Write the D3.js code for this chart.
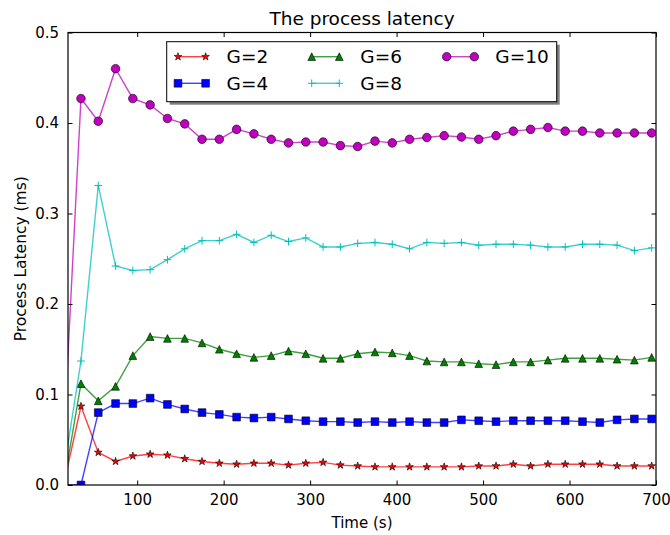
<!DOCTYPE html>
<html>
<head>
<meta charset="utf-8">
<script src="https://cdn.jsdelivr.net/npm/d3@7"></script>
<style>
  html, body { margin: 0; padding: 0; background: #fff; }
  svg { display: block; }
  text { font-family: "DejaVu Sans", sans-serif; fill: #000; }
</style>
</head>
<body>
<svg id="chart" width="670" height="535"></svg>
<script>
// Sample times (s): one warm-up point, then one every 20 s
const times = [15, 35, 55, 75, 95, 115, 135, 155, 175, 195, 215, 235, 255, 275, 295, 315, 335,
  355, 375, 395, 415, 435, 455, 475, 495, 515, 535, 555, 575, 595, 615, 635, 655, 675, 695];

// Process latency (ms) per group size G
const g2 = [0, 0.087, 0.036, 0.026, 0.032, 0.034, 0.033, 0.029, 0.026, 0.024, 0.023, 0.024,
  0.024, 0.022, 0.024, 0.025, 0.022, 0.021, 0.020, 0.020, 0.020, 0.020, 0.020,
  0.020, 0.021, 0.021, 0.023, 0.021, 0.023, 0.023, 0.023, 0.023, 0.021, 0.021, 0.021];
const g4 = [0, 0.0, 0.080, 0.090, 0.090, 0.096, 0.089, 0.084, 0.080, 0.078, 0.075, 0.074,
  0.075, 0.073, 0.071, 0.070, 0.070, 0.069, 0.070, 0.069, 0.070, 0.069, 0.069,
  0.072, 0.071, 0.070, 0.071, 0.071, 0.071, 0.071, 0.070, 0.069, 0.072, 0.073, 0.073];
const g6 = [0, 0.112, 0.093, 0.109, 0.143, 0.164, 0.162, 0.162, 0.157, 0.150, 0.145, 0.141,
  0.143, 0.148, 0.145, 0.140, 0.140, 0.145, 0.147, 0.146, 0.143, 0.137, 0.136,
  0.136, 0.134, 0.133, 0.136, 0.136, 0.138, 0.140, 0.140, 0.140, 0.139, 0.138, 0.141];
const g8 = [0.015, 0.137, 0.331, 0.242, 0.237, 0.238, 0.249, 0.261, 0.270, 0.270, 0.277, 0.268,
  0.276, 0.269, 0.273, 0.263, 0.263, 0.267, 0.268, 0.266, 0.261, 0.268, 0.267,
  0.268, 0.265, 0.266, 0.266, 0.265, 0.263, 0.263, 0.266, 0.266, 0.265, 0.259, 0.262];
const g10 = [0.05, 0.427, 0.402, 0.460, 0.427, 0.420, 0.405, 0.399, 0.382, 0.382, 0.393, 0.388,
  0.382, 0.378, 0.379, 0.379, 0.375, 0.374, 0.380, 0.378, 0.382, 0.384, 0.386,
  0.3845, 0.382, 0.386, 0.391, 0.393, 0.395, 0.391, 0.391, 0.389, 0.389, 0.389, 0.389];

const seriesNames = ["G=2", "G=4", "G=6", "G=8", "G=10"];
const seriesValues = [g2, g4, g6, g8, g10];
const seriesColors = ["#ff0000", "#0000ff", "#008000", "#00bfbf", "#bf00bf"];
const seriesMarkers = ["star", "square", "triangle", "plus", "circle"];

const xTicks = [100, 200, 300, 400, 500, 600, 700];
const yTicks = [0.0, 0.1, 0.2, 0.3, 0.4, 0.5];

(function () {
  const svg = d3.select("#chart");
  const pL = 68, pR = 656, pT = 32.5, pB = 485;
  const x = d3.scaleLinear().domain([20, 700]).range([pL, pR]);
  const y = d3.scaleLinear().domain([0, 0.5]).range([pB, pT]);

  svg.append("defs").append("clipPath").attr("id", "plotclip")
    .append("rect").attr("x", pL).attr("y", pT)
    .attr("width", pR - pL).attr("height", pB - pT);

  // Marker shapes, centred on the origin
  const MS = 7.7;
  function markerPath(kind) {
    const r = MS / 2;
    if (kind === "star") {
      const pts = [];
      for (let i = 0; i < 10; i++) {
        const a = -Math.PI / 2 + i * Math.PI / 5;
        const rr = i % 2 === 0 ? r * 1.05 : r * 1.05 * 0.382;
        pts.push([rr * Math.cos(a), rr * Math.sin(a)]);
      }
      return "M" + pts.map(p => p.join(",")).join("L") + "Z";
    }
    if (kind === "square") return `M${-r},${-r}H${r}V${r}H${-r}Z`;
    if (kind === "triangle") return `M0,${-r}L${r},${r}L${-r},${r}Z`;
    if (kind === "plus") return `M${-r},0H${r}M0,${-r}V${r}`;
    return null;
  }
  function drawMarker(g, kind, color, cx, cy) {
    if (kind === "circle") {
      g.append("circle").attr("cx", cx).attr("cy", cy).attr("r", 4.3)
        .attr("fill", color).attr("stroke", "#000").attr("stroke-width", 0.6);
    } else if (kind === "plus") {
      g.append("path").attr("d", markerPath(kind)).attr("transform", `translate(${cx},${cy})`)
        .attr("fill", "none").attr("stroke", color).attr("stroke-width", 1);
    } else {
      g.append("path").attr("d", markerPath(kind)).attr("transform", `translate(${cx},${cy})`)
        .attr("fill", color).attr("stroke", "#000").attr("stroke-width", 0.6);
    }
  }

  // Series lines and markers
  const plot = svg.append("g").attr("clip-path", "url(#plotclip)");
  const line = d3.line().x(d => x(d[0])).y(d => y(d[1]));
  seriesValues.forEach((vals, i) => {
    const pts = times.map((t, j) => [t, vals[j]]);
    plot.append("path").datum(pts).attr("d", line)
      .attr("fill", "none").attr("stroke", seriesColors[i])
      .attr("stroke-width", 1.4).attr("stroke-opacity", 0.75);
    const mg = plot.append("g");
    pts.forEach(p => drawMarker(mg, seriesMarkers[i], seriesColors[i], x(p[0]), y(p[1])));
  });

  // Frame
  svg.append("rect").attr("x", pL).attr("y", pT)
    .attr("width", pR - pL).attr("height", pB - pT)
    .attr("fill", "none").attr("stroke", "#000").attr("stroke-width", 1.2);

  // Inward ticks on all four sides
  const tickLen = 4.5;
  const gx = svg.append("g").attr("transform", `translate(0,${pB})`)
    .call(d3.axisBottom(x).tickValues(xTicks).tickSize(-tickLen).tickPadding(9)
      .tickFormat(d3.format("d")));
  gx.select(".domain").remove();
  gx.selectAll("text").attr("font-size", 15).attr("font-family", "DejaVu Sans");
  const gxt = svg.append("g").attr("transform", `translate(0,${pT})`)
    .call(d3.axisTop(x).tickValues(xTicks).tickSize(-tickLen).tickFormat(""));
  gxt.select(".domain").remove();

  const gy = svg.append("g").attr("transform", `translate(${pL},0)`)
    .call(d3.axisLeft(y).tickValues(yTicks).tickSize(-tickLen).tickPadding(9)
      .tickFormat(d3.format(".1f")));
  gy.select(".domain").remove();
  gy.selectAll("text").attr("font-size", 15).attr("font-family", "DejaVu Sans");
  const gyr = svg.append("g").attr("transform", `translate(${pR},0)`)
    .call(d3.axisRight(y).tickValues(yTicks).tickSize(-tickLen).tickFormat(""));
  gyr.select(".domain").remove();
  svg.selectAll(".tick line").attr("stroke", "#000").attr("stroke-width", 1);

  // Titles
  svg.append("text").attr("x", (pL + pR) / 2).attr("y", 25)
    .attr("text-anchor", "middle").attr("font-size", 18.5).text("The process latency");
  svg.append("text").attr("x", (pL + pR) / 2).attr("y", 528)
    .attr("text-anchor", "middle").attr("font-size", 15).text("Time (s)");
  svg.append("text").attr("transform", `translate(26,${(pT + pB) / 2}) rotate(-90)`)
    .attr("text-anchor", "middle").attr("font-size", 15.5).text("Process Latency (ms)");

  // Legend
  const lg = svg.append("g");
  const lx0 = 166.7, ly0 = 41.7, lw = 390, lh = 60;
  lg.append("rect").attr("x", lx0 + 3).attr("y", ly0 + 3).attr("width", lw).attr("height", lh)
    .attr("fill", "#000").attr("opacity", 0.5);
  lg.append("rect").attr("x", lx0).attr("y", ly0).attr("width", lw).attr("height", lh)
    .attr("fill", "#fff").attr("stroke", "#000").attr("stroke-width", 1);
  const colX = [178, 311.7, 446.7];
  const rowY = [56.7, 83.3];
  seriesNames.forEach((name, i) => {
    const col = Math.floor(i / 2), row = i % 2;
    const x0 = colX[col], x1 = x0 + 27.6, yy = rowY[row];
    lg.append("line").attr("x1", x0).attr("x2", x1).attr("y1", yy).attr("y2", yy)
      .attr("stroke", seriesColors[i]).attr("stroke-width", 1.4).attr("stroke-opacity", 0.75);
    drawMarker(lg, seriesMarkers[i], seriesColors[i], x0, yy);
    drawMarker(lg, seriesMarkers[i], seriesColors[i], x1, yy);
    lg.append("text").attr("x", x1 + 21).attr("y", yy).attr("dy", "0.36em")
      .attr("font-size", 18.5).text(name);
  });
})();
</script>
</body>
</html>
